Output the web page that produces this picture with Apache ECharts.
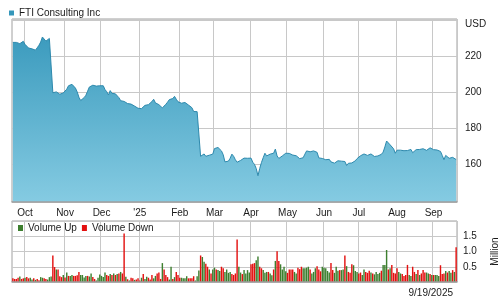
<!DOCTYPE html>
<html>
<head>
<meta charset="utf-8">
<script src="https://cdn.jsdelivr.net/npm/echarts@6/dist/echarts.min.js"></script>
<style>
  html, body { margin: 0; padding: 0; background: #fff; }
  #chart { width: 500px; height: 300px; }
</style>
</head>
<body>
<div id="chart"></div>
<script>
const title = 'FTI Consulting Inc'
const lastDate = '9/19/2025'
const firstDay = [2024, 8, 20]
const lastDay = [2025, 8, 19]
// market holidays that are left out of the series (the early ones are kept in the source)
const holidays = ['2025-04-18', '2025-05-26', '2025-06-19', '2025-07-04', '2025-09-01']

// daily close, USD
const closePrice = [
  227.6, 227.6, 227.6, 227.6, 226.9, 227.8, 228.2, 226.5, 225.4, 224.5,
  223.6, 224.0, 223.2, 223.3, 224.6, 226.0, 227.8, 230.6, 229.8, 228.3,
  228.8, 229.8, 229.4, 199.6, 199.6, 200.1, 200.8, 198.8, 197.9, 199.5,
  200.0, 201.6, 203.5, 204.5, 204.3, 203.6, 202.2, 200.1, 197.1, 195.3,
  196.0, 196.9, 198.2, 200.5, 202.8, 203.7, 203.8, 203.7, 203.3, 203.4,
  203.5, 204.4, 203.5, 201.4, 200.2, 198.4, 200.8, 199.3, 199.1, 199.0,
  198.7, 196.9, 195.2, 194.4, 194.8, 194.2, 193.6, 193.5, 193.3, 192.9,
  192.2, 191.5, 191.0, 190.6, 190.8, 191.3, 192.6, 193.4, 193.0, 193.5,
  194.7, 196.0, 194.0, 193.0, 193.0, 192.8, 191.2, 192.0, 193.2, 194.4,
  195.8, 196.3, 196.4, 197.6, 196.0, 194.6, 194.2, 193.8, 194.0, 194.2,
  193.8, 192.8, 192.1, 191.3, 189.2, 188.3, 189.1, 190.0, 164.3, 165.4,
  165.6, 164.3, 164.9, 164.9, 164.9, 165.5, 168.6, 169.4, 169.2, 169.5,
  167.3, 165.2, 161.2, 161.0, 161.6, 163.2, 165.5, 164.3, 162.4, 161.0,
  161.6, 162.0, 162.5, 163.3, 163.1, 163.2, 164.0, 163.3, 161.0, 159.8,
  157.5, 153.5, 157.5, 160.8, 163.5, 166.0, 164.5, 165.0, 165.5, 164.6,
  166.0, 168.3, 164.5, 163.1, 164.2, 164.5, 165.2, 166.0, 165.8, 165.9,
  165.6, 165.0, 165.4, 164.6, 163.5, 163.0, 163.0, 163.5, 165.5, 167.3,
  167.6, 166.8, 166.8, 167.3, 167.6, 166.5, 163.4, 163.3, 163.1, 162.8,
  162.4, 163.5, 162.6, 161.2, 160.4, 160.5, 161.2, 161.8, 161.4, 161.6,
  162.2, 161.4, 159.2, 160.4, 160.6, 160.6, 160.4, 161.8, 163.0, 164.1,
  164.6, 165.1, 165.6, 165.4, 164.8, 164.2, 165.6, 166.2, 164.2, 165.0,
  164.5, 163.6, 165.4, 166.6, 169.5, 172.8, 172.9, 170.7, 170.4, 168.5,
  166.0, 167.7, 167.7, 167.7, 167.5, 167.4, 167.6, 167.5, 167.6, 168.1,
  166.3, 166.8, 168.0, 168.5, 168.1, 168.2, 168.5, 167.9, 167.6, 167.8,
  169.0, 168.2, 168.0, 168.0, 167.8, 167.7, 167.0, 164.8, 162.4, 164.8,
  164.5, 163.2, 163.6, 163.7, 163.4, 162.5
]

// daily volume, million shares
const volume = [
  0.12, 0.10, 0.10, 0.14, 0.18, 0.10, 0.12, 0.14, 0.16, 0.12,
  0.14, 0.08, 0.12, 0.07, 0.10, 0.06, 0.16, 0.14, 0.12, 0.10,
  0.08, 0.16, 0.18, 0.87, 0.49, 0.41, 0.41, 0.19, 0.16, 0.23,
  0.15, 0.31, 0.20, 0.20, 0.23, 0.20, 0.20, 0.22, 0.33, 0.23,
  0.23, 0.15, 0.20, 0.20, 0.18, 0.28, 0.16, 0.10, 0.05, 0.14,
  0.25, 0.20, 0.16, 0.31, 0.23, 0.20, 0.26, 0.23, 0.28, 0.23,
  0.26, 0.28, 0.33, 0.28, 1.59, 0.17, 0.09, 0.05, 0.14, 0.12,
  0.07, 0.08, 0.12, 0.05, 0.14, 0.26, 0.10, 0.17, 0.14, 0.08,
  0.23, 0.12, 0.20, 0.28, 0.31, 0.10, 0.62, 0.41, 0.23, 0.16,
  0.08, 0.50, 0.10, 0.16, 0.33, 0.23, 0.14, 0.14, 0.12, 0.12,
  0.19, 0.12, 0.12, 0.12, 0.19, 0.05, 0.19, 0.38, 0.87, 0.82,
  0.66, 0.60, 0.50, 0.41, 0.28, 0.41, 0.47, 0.41, 0.39, 0.36,
  0.50, 0.45, 0.33, 0.41, 0.30, 0.33, 0.26, 0.23, 0.28, 1.39,
  0.50, 0.31, 0.26, 0.39, 0.28, 0.39, 0.31, 0.58, 0.60, 0.62,
  0.71, 0.84, 0.50, 0.45, 0.39, 0.30, 0.33, 0.33, 0.28, 0.22,
  0.41, 0.69, 1.01, 0.69, 0.58, 0.41, 0.50, 0.35, 0.30, 0.41,
  0.41, 0.41, 0.33, 0.28, 0.47, 0.42, 0.50, 0.45, 0.45, 0.47,
  0.50, 0.41, 0.28, 0.33, 0.45, 0.52, 0.41, 0.35, 0.50, 0.47,
  0.45, 0.36, 0.31, 0.62, 0.39, 0.30, 0.50, 0.37, 0.39, 0.39,
  0.41, 0.87, 0.52, 0.33, 0.30, 0.58, 0.55, 0.36, 0.33, 0.28,
  0.31, 0.23, 0.41, 0.33, 0.30, 0.37, 0.31, 0.28, 0.25, 0.33,
  0.26, 0.30, 0.37, 0.56, 0.56, 1.05, 0.41, 0.45, 0.56, 0.30,
  0.28, 0.45, 0.33, 0.28, 0.26, 0.20, 0.23, 0.56, 0.23, 0.20,
  0.50, 0.33, 0.26, 0.39, 0.23, 0.28, 0.39, 0.31, 0.31, 0.28,
  0.26, 0.23, 0.23, 0.23, 0.23, 0.20, 0.55, 0.26, 0.28, 0.36,
  0.31, 0.36, 0.30, 0.39, 0.33, 1.14
]

// G = volume up day, R = volume down day
const volDir = (
  'RRRRGRRGRR GGRGRRGGRR GGGRRGRRRG RGRGGRRRRG GGGRGGRRGG ' +
  'GGGGRRGRGR GRGRRGRGRR GRRRGRGGRR RGGRRRGRRR GGRGRRRGGG ' +
  'GRRRRGGGRG GRRGRGGRGG RRGGGGRRRR GGRGGGGRRR GGRRGGGRGG ' +
  'RGRRGGGGRR RRGGRRRGGG GRGGGRRRGG GGGRRGGGRG GRGRRRGGGR ' +
  'RGGRRRGRGG GGRGGGRGRR RRGGRRRRGG RRGRGRRRGG RGRGGGRRRG ' +
  'RGGRGR'
).replace(/ /g, '').split('')

const priceTicks = [160, 180, 200, 220]
const volTicks = [0.5, 1.0, 1.5]
const monthLabels = ["'25", 'Feb', 'Mar', 'Apr', 'May', 'Jun', 'Jul', 'Aug', 'Sep', 'Oct', 'Nov', 'Dec']

const font = 'Liberation Sans, Arial, sans-serif'
const textColor = '#1a1a1a'
const gridLineColor = '#c8c8c8'
const frameColor = '#a0a0a0'
const upColor = '#3d7f2f'
const downColor = '#e3100f'

// weekdays of the period, minus the skipped holidays
const dates = []
for (let t = Date.UTC(...firstDay); t <= Date.UTC(...lastDay); t += 86400000) {
  const d = new Date(t)
  const wd = d.getUTCDay()
  const s = d.toISOString().slice(0, 10)
  if (wd === 0 || wd === 6 || holidays.includes(s)) continue
  dates.push(s)
}

function isMonthStart(i) {
  return i > 0 && dates[i].slice(5, 7) !== dates[i - 1].slice(5, 7)
}

const volUp = volume.map((v, i) => (volDir[i] === 'G' ? v : '-'))
const volDown = volume.map((v, i) => (volDir[i] === 'R' ? v : '-'))

const chart = echarts.init(document.getElementById('chart'), null, { renderer: 'canvas' })

const baseText = { fontFamily: font, fontSize: 10, color: textColor }

// bottom edge of each panel, drawn above the series
function frameAxis(gridIndex) {
  return {
    type: 'category',
    gridIndex,
    data: dates,
    position: 'bottom',
    z: 5,
    axisLine: { show: true, lineStyle: { color: frameColor, width: 1.5 } },
    axisTick: { show: false },
    axisLabel: { show: false },
    splitLine: { show: false },
  }
}

chart.setOption({
  animation: false,
  backgroundColor: '#fff',
  legend: [
    {
      data: [title],
      left: 9,
      top: 8,
      icon: 'rect',
      itemWidth: 5,
      itemHeight: 5,
      itemGap: 6,
      padding: 0,
      textStyle: baseText,
      selectedMode: false,
    },
    {
      data: ['Volume Up', 'Volume Down'],
      left: 18,
      top: 223,
      icon: 'rect',
      itemWidth: 5,
      itemHeight: 6,
      itemGap: 5,
      padding: 0,
      textStyle: baseText,
      selectedMode: false,
    },
  ],
  grid: [
    {
      left: 12, right: 43, top: 19, height: 183,
      show: true, borderColor: frameColor, borderWidth: 1, backgroundColor: '#fff',
      containLabel: false, outerBoundsMode: 'none',
    },
    {
      left: 12, right: 43, top: 221, height: 61,
      show: true, borderColor: frameColor, borderWidth: 1, backgroundColor: '#fff',
      containLabel: false, outerBoundsMode: 'none',
    },
  ],
  xAxis: [
    {
      type: 'category',
      gridIndex: 0,
      data: dates,
      boundaryGap: true,
      axisLine: { show: false },
      axisTick: { show: false },
      axisLabel: {
        ...baseText,
        margin: 6,
        hideOverlap: false,
        interval: (i) => isMonthStart(i),
        formatter: (v) => monthLabels[Number(v.slice(5, 7)) - 1],
      },
      splitLine: { show: true, interval: (i) => isMonthStart(i), lineStyle: { color: gridLineColor } },
    },
    {
      type: 'category',
      gridIndex: 1,
      data: dates,
      boundaryGap: true,
      axisLine: { show: false },
      axisTick: { show: false },
      axisLabel: { show: false },
      splitLine: { show: true, interval: (i) => isMonthStart(i), lineStyle: { color: gridLineColor } },
    },
    frameAxis(0),
    frameAxis(1),
  ],
  yAxis: [
    {
      type: 'value',
      gridIndex: 0,
      position: 'right',
      min: 138.9,
      max: 240.6,
      splitNumber: 5,
      axisLine: { show: false },
      axisTick: { show: false },
      axisLabel: {
        ...baseText,
        margin: 8,
        formatter: (v) => (priceTicks.includes(v) ? String(v) : ''),
      },
      splitLine: { show: true, lineStyle: { color: gridLineColor } },
    },
    {
      type: 'value',
      gridIndex: 1,
      position: 'right',
      min: 0,
      max: 2,
      interval: 0.5,
      name: 'Million',
      nameLocation: 'middle',
      nameRotate: 90,
      nameGap: 33,
      nameTextStyle: baseText,
      axisLine: { show: false },
      axisTick: { show: false },
      axisLabel: {
        ...baseText,
        margin: 6,
        formatter: (v) => (volTicks.includes(v) ? v.toFixed(1) : ''),
      },
      splitLine: { show: true, lineStyle: { color: gridLineColor } },
    },
  ],
  graphic: [
    { type: 'text', left: 465, top: 19, style: { text: 'USD', fill: textColor, font: '10px ' + font } },
    { type: 'text', right: 47, top: 288, style: { text: lastDate, fill: textColor, font: '10px ' + font } },
  ],
  series: [
    {
      name: title,
      type: 'line',
      xAxisIndex: 0,
      yAxisIndex: 0,
      data: closePrice,
      showSymbol: false,
      symbol: 'none',
      color: '#3597bb',
      lineStyle: { color: '#2d89ad', width: 1 },
      areaStyle: {
        origin: 'start',
        opacity: 1,
        color: new echarts.graphic.LinearGradient(0, 19, 0, 202, [
          { offset: 0, color: '#3496ba' },
          { offset: 1, color: '#85cbe2' },
        ], true),
      },
    },
    {
      name: 'Volume Up',
      type: 'bar',
      xAxisIndex: 1,
      yAxisIndex: 1,
      stack: 'vol',
      data: volUp,
      color: upColor,
      barCategoryGap: '18%',
    },
    {
      name: 'Volume Down',
      type: 'bar',
      xAxisIndex: 1,
      yAxisIndex: 1,
      stack: 'vol',
      data: volDown,
      color: downColor,
      barCategoryGap: '18%',
    },
  ],
})
</script>
</body>
</html>
